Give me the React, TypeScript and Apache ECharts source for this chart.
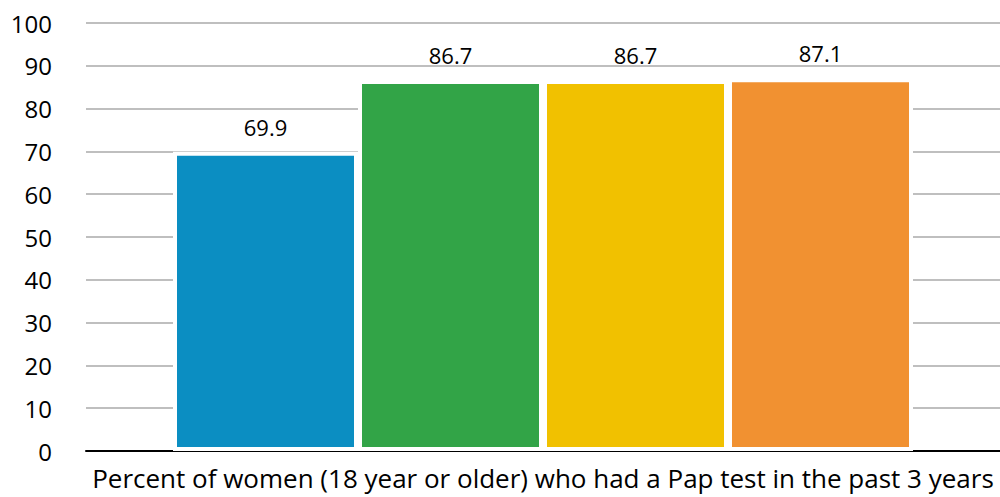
import React, { useEffect, useRef } from "react";
import * as echarts from "echarts";

const categories = ["Percent of women (18 year or older) who had a Pap test in the past 3 years"];
const seriesNames = ["Group 1", "Group 2", "Group 3", "Group 4"];
const seriesValues = [[69.9], [86.7], [86.7], [87.1]];
const seriesColors = ["#0B8EC2", "#32A447", "#F1C100", "#F19131"];
const yTicks = { min: 0, max: 100, interval: 10 };

export default function App() {
  const ref = useRef<HTMLDivElement>(null);
  useEffect(() => {
    if (!ref.current) return;
    const chart = echarts.init(ref.current, null, { renderer: "svg" });
    const font = "'Open Sans', Lato, sans-serif";
    chart.setOption({
      animation: false,
      grid: { left: 86, right: -9, top: 23, bottom: 46, containLabel: false },
      xAxis: {
        type: "category",
        data: categories,
        axisLine: { show: true, lineStyle: { color: "#000", width: 2 } },
        axisTick: { show: false },
        axisLabel: {
          color: "#000",
          fontSize: 26,
          fontFamily: font,
          margin: 14,
          width: 1000,
          overflow: "none",
          interval: 0,
        },
      },
      yAxis: {
        type: "value",
        min: yTicks.min,
        max: yTicks.max,
        interval: yTicks.interval,
        axisLine: { show: false },
        axisTick: { show: false },
        splitLine: { lineStyle: { color: "#BFBFBF", width: 2 } },
        axisLabel: { color: "#000", fontSize: 24, fontFamily: font, margin: 34 },
      },
      series: seriesValues.map((vals, i) => ({
        type: "bar",
        name: seriesNames[i],
        data: vals,
        barWidth: 185,
        barGap: "0%",
        itemStyle: { color: seriesColors[i], borderColor: "#fff", borderWidth: 4 },
        label: {
          show: true,
          position: "top",
          distance: 14,
          color: "#000",
          fontSize: 22,
          fontFamily: font,
          formatter: (p: any) => p.value.toFixed(1),
        },
      })),
    });
    return () => chart.dispose();
  }, []);
  return <div ref={ref} style={{ width: 1000, height: 497, position: "absolute", left: 0, top: 0 }} />;
}
